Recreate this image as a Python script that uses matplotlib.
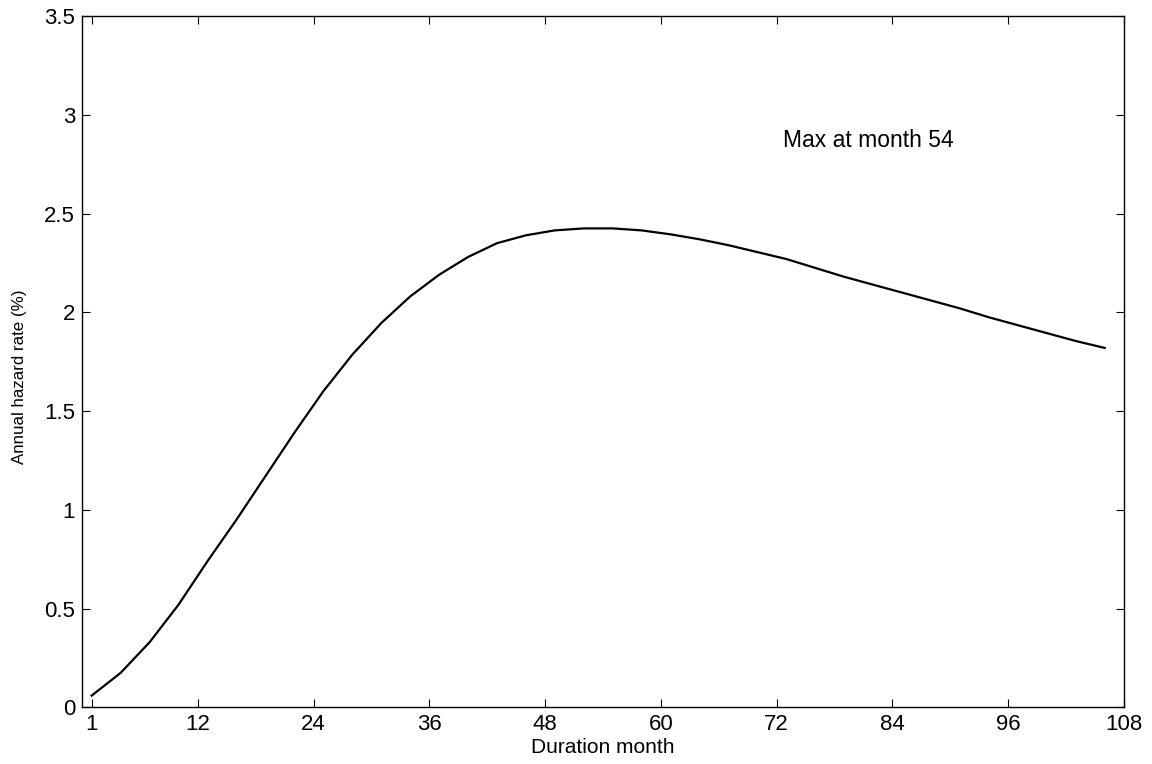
import matplotlib
matplotlib.use("Agg")
import matplotlib.pyplot as plt

# hazard curve, sampled every 3 months
months = list(range(1, 107, 3))
hazard = [0.06, 0.175, 0.33, 0.52, 0.74, 0.95, 1.17, 1.39, 1.60, 1.785,
          1.945, 2.08, 2.19, 2.28, 2.35, 2.39, 2.415, 2.425, 2.425, 2.415,
          2.395, 2.37, 2.34, 2.305, 2.27, 2.225, 2.18, 2.14, 2.10, 2.06,
          2.02, 1.975, 1.935, 1.895, 1.855, 1.82]

x_ticks = [1, 12, 24, 36, 48, 60, 72, 84, 96, 108]
y_ticks = [0, 0.5, 1, 1.5, 2, 2.5, 3, 3.5]
y_tick_labels = ["0", "0.5", "1", "1.5", "2", "2.5", "3", "3.5"]
note = "Max at month 54"

plt.rcParams["font.family"] = ["Liberation Sans", "DejaVu Sans"]

fig = plt.figure(figsize=(11.52, 7.64), dpi=100)
ax = fig.add_axes([0.0712, 0.074, 0.9045, 0.905])

ax.plot(months, hazard, color="black", linewidth=1.6)

ax.set_xlim(0, 108)
ax.set_ylim(0, 3.5)
ax.set_xticks(x_ticks)
ax.set_yticks(y_ticks)
ax.set_yticklabels(y_tick_labels)
ax.tick_params(direction="in", length=6, width=0.8, labelsize=16,
               top=True, right=True, pad=5)
for s in ax.spines.values():
    s.set_linewidth(1.0)

ax.set_xlabel("Duration month", fontsize=15, labelpad=2)
ax.set_ylabel("Annual hazard rate (%)", fontsize=12.2)
ax.yaxis.set_label_coords(-0.053, 0.479)
ax.text(72.7, 2.87, note, fontsize=16.5, ha="left", va="center")

fig.savefig("out.png", dpi=100)
